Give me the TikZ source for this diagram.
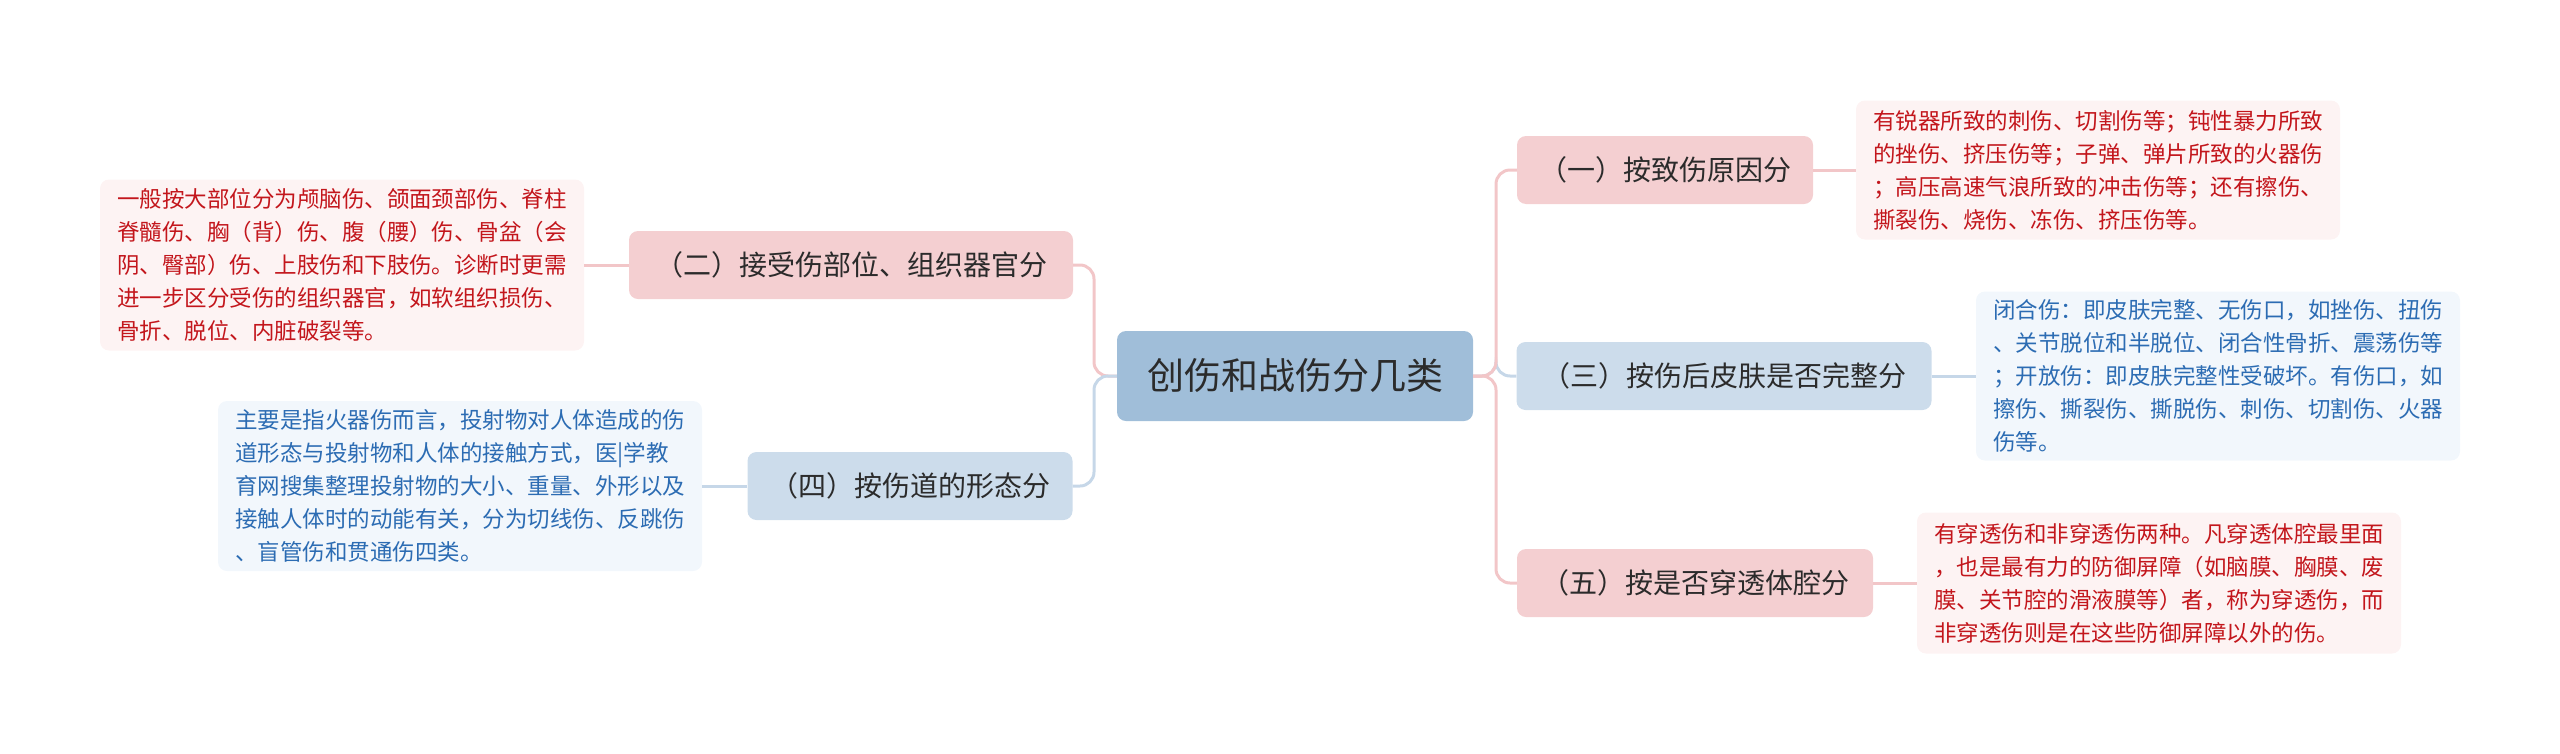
\documentclass[tikz,border=0pt]{standalone}
\usepackage{fontspec}
\setmainfont{Noto Sans CJK SC}
\definecolor{cfill}{HTML}{A0BED9}
\definecolor{ctext}{HTML}{2B2B2B}
\definecolor{rfill}{HTML}{F4CFD1}
\definecolor{bfill}{HTML}{CCDCEB}
\definecolor{rleaf}{HTML}{FDF3F3}
\definecolor{bleaf}{HTML}{F2F7FC}
\definecolor{rtext}{HTML}{C3161C}
\definecolor{btext}{HTML}{2C6CB3}
\definecolor{rline}{HTML}{F2C6C8}
\definecolor{bline}{HTML}{C6D7E8}
\begin{document}
\begin{tikzpicture}[x=1pt,y=-1pt,
  box/.style={rounded corners=9pt, inner sep=0pt, anchor=center},
  central/.style={box, fill=cfill, text=ctext, minimum width=356pt, minimum height=90pt, font=\fontsize{37pt}{44pt}\selectfont},
  redchild/.style={box, fill=rfill, text=ctext, minimum height=68pt, font=\fontsize{28pt}{34pt}\selectfont},
  bluechild/.style={box, fill=bfill, text=ctext, minimum height=68pt, font=\fontsize{28pt}{34pt}\selectfont},
  redleaf/.style={box, fill=rleaf, text=rtext, align=left, minimum width=484pt, font=\fontsize{22.5pt}{33pt}\selectfont},
  blueleaf/.style={box, fill=bleaf, text=btext, align=left, minimum width=484pt, font=\fontsize{22.5pt}{33pt}\selectfont},
  redline/.style={draw=rline, line width=3pt, rounded corners=14pt},
  blueline/.style={draw=bline, line width=3pt, rounded corners=14pt}]
\useasboundingbox (0,0) rectangle (2560,753);

\node[central] (c) at (1295,376) {创伤和战伤分几类};

\node[redchild, minimum width=296pt] (n1) at (1665,170) {（一）按致伤原因分};
\node[bluechild, minimum width=415pt] (n3) at (1724,376) {（三）按伤后皮肤是否完整分};
\node[redchild, minimum width=356pt] (n5) at (1695,583) {（五）按是否穿透体腔分};
\node[redchild, minimum width=444pt] (n2) at (851,265) {（二）接受伤部位、组织器官分};
\node[bluechild, minimum width=325pt] (n4) at (910,486) {（四）按伤道的形态分};

\node[redleaf, minimum height=139pt] (l1) at (2098,170) {有锐器所致的刺伤、切割伤等；钝性暴力所致\\的挫伤、挤压伤等；子弹、弹片所致的火器伤\\；高压高速气浪所致的冲击伤等；还有擦伤、\\撕裂伤、烧伤、冻伤、挤压伤等。};
\node[blueleaf, minimum height=169pt] (l3) at (2218,376) {闭合伤：即皮肤完整、无伤口，如挫伤、扭伤\\、关节脱位和半脱位、闭合性骨折、震荡伤等\\；开放伤：即皮肤完整性受破坏。有伤口，如\\擦伤、撕裂伤、撕脱伤、刺伤、切割伤、火器\\伤等。};
\node[redleaf, minimum height=141pt] (l5) at (2159,583) {有穿透伤和非穿透伤两种。凡穿透体腔最里面\\，也是最有力的防御屏障（如脑膜、胸膜、废\\膜、关节腔的滑液膜等）者，称为穿透伤，而\\非穿透伤则是在这些防御屏障以外的伤。};
\node[redleaf, minimum height=171pt] (l2) at (342,265) {一般按大部位分为颅脑伤、颌面颈部伤、脊柱\\脊髓伤、胸（背）伤、腹（腰）伤、骨盆（会\\阴、臀部）伤、上肢伤和下肢伤。诊断时更需\\进一步区分受伤的组织器官，如软组织损伤、\\骨折、脱位、内脏破裂等。};
\node[blueleaf, minimum height=170pt] (l4) at (460,486) {主要是指火器伤而言，投射物对人体造成的伤\\道形态与投射物和人体的接触方式，医|学教\\育网搜集整理投射物的大小、重量、外形以及\\接触人体时的动能有关，分为切线伤、反跳伤\\、盲管伤和贯通伤四类。};

\coordinate (rt) at (1496,376);
\coordinate (lt) at (1094,376);

\draw[blueline] (c.east) -- (rt) |- (n3.west);
\draw[redline] (c.east) -- (rt) |- (n1.west);
\draw[redline] (c.east) -- (rt) |- (n5.west);
\draw[redline] (c.west) -- (lt) |- (n2.east);
\draw[blueline] (c.west) -- (lt) |- (n4.east);

\draw[redline] (n1.east) -- (l1.west |- n1.east);
\draw[blueline] (n3.east) -- (l3.west |- n3.east);
\draw[redline] (n5.east) -- (l5.west |- n5.east);
\draw[redline] (n2.west) -- (l2.east |- n2.west);
\draw[blueline] (n4.west) -- (l4.east |- n4.west);
\end{tikzpicture}
\end{document}
